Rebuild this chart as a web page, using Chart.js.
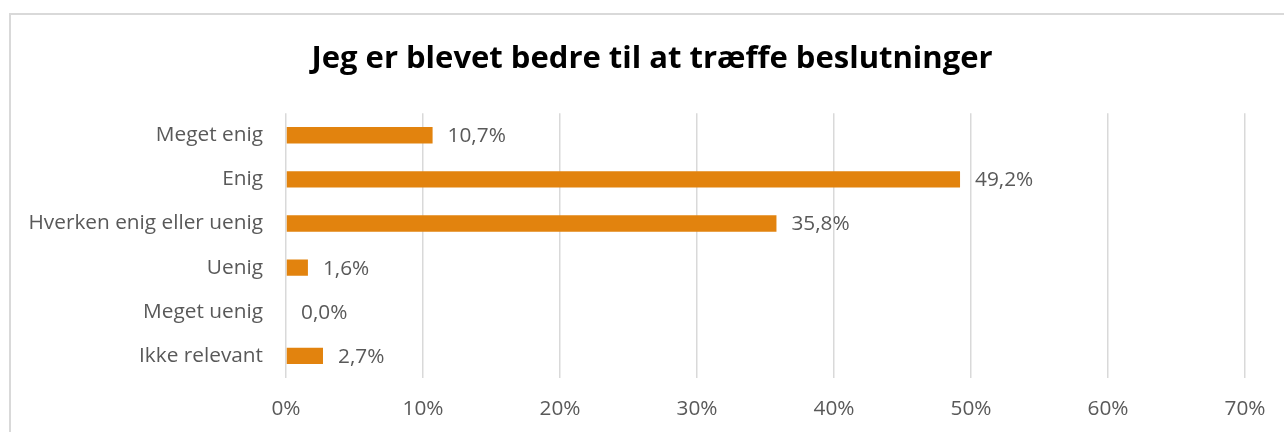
<!DOCTYPE html>
<html>
<head>
<meta charset="utf-8">
<script src="https://cdn.jsdelivr.net/npm/chart.js@4"></script>
<style>
  html, body { margin: 0; padding: 0; background: #fff; }
  #wrap { position: relative; width: 1284px; height: 432px; overflow: hidden; }
  #frame { position: absolute; left: 9px; top: 13px; width: 1300px; height: 500px;
           border: 2px solid #d9d9d9; box-sizing: border-box; pointer-events: none; }
  canvas { position: absolute; left: 0; top: 0; }
</style>
</head>
<body>
<div id="wrap">
  <canvas id="c" width="1284" height="432"></canvas>
  <div id="frame"></div>
</div>
<script>
// Survey answers and their shares (percent)
const categories = ['Meget enig', 'Enig', 'Hverken enig eller uenig', 'Uenig', 'Meget uenig', 'Ikke relevant'];
const shares = [10.7, 49.2, 35.8, 1.6, 0.0, 2.7];
const tickValues = [0, 10, 20, 30, 40, 50, 60, 70];
const chartTitle = 'Jeg er blevet bedre til at træffe beslutninger';

const FONT = '"Open Sans", "Noto Sans", sans-serif';
const GREY = '#595959';
const LABEL_SIZE = 20.8;
const pct = v => v.toFixed(1).replace('.', ',') + '%';

// Value labels written just past the end of each bar
const valueLabels = {
  id: 'valueLabels',
  afterDatasetsDraw(chart) {
    const ctx = chart.ctx;
    const meta = chart.getDatasetMeta(0);
    ctx.save();
    ctx.font = LABEL_SIZE + 'px ' + FONT;
    ctx.fillStyle = GREY;
    ctx.textAlign = 'left';
    ctx.textBaseline = 'middle';
    meta.data.forEach((bar, i) => {
      ctx.fillText(pct(shares[i]), bar.x + 15, bar.y + 1);
    });
    ctx.restore();
  }
};

new Chart(document.getElementById('c'), {
  type: 'bar',
  data: {
    labels: categories,
    datasets: [{
      data: shares,
      backgroundColor: '#E2830E',
      borderWidth: 0,
      barPercentage: 0.37,
      categoryPercentage: 1.0
    }]
  },
  options: {
    indexAxis: 'y',
    responsive: false,
    animation: false,
    layout: { padding: { left: 20, right: 0, top: 25, bottom: 0 } },
    plugins: {
      legend: { display: false },
      tooltip: { enabled: false },
      title: {
        display: true,
        text: chartTitle,
        color: '#000',
        font: { family: FONT, size: 31, weight: 'bold' },
        padding: { top: 16, bottom: 35 }
      }
    },
    scales: {
      x: {
        min: 0,
        max: 70,
        afterBuildTicks(axis) { axis.ticks = tickValues.map(v => ({ value: v })); },
        afterFit(axis) { axis.height = 54; axis.paddingRight = 39; },
        border: { display: false },
        grid: { color: '#d9d9d9', lineWidth: 1.5, drawTicks: false },
        ticks: {
          color: GREY,
          padding: 19,
          font: { family: FONT, size: LABEL_SIZE },
          callback: v => v + '%'
        }
      },
      y: {
        afterFit(axis) { axis.width = 266; },
        border: { display: false },
        grid: { display: false, drawTicks: false },
        ticks: {
          color: GREY,
          padding: 23,
          font: { family: FONT, size: LABEL_SIZE }
        }
      }
    }
  },
  plugins: [valueLabels]
});
</script>
</body>
</html>
